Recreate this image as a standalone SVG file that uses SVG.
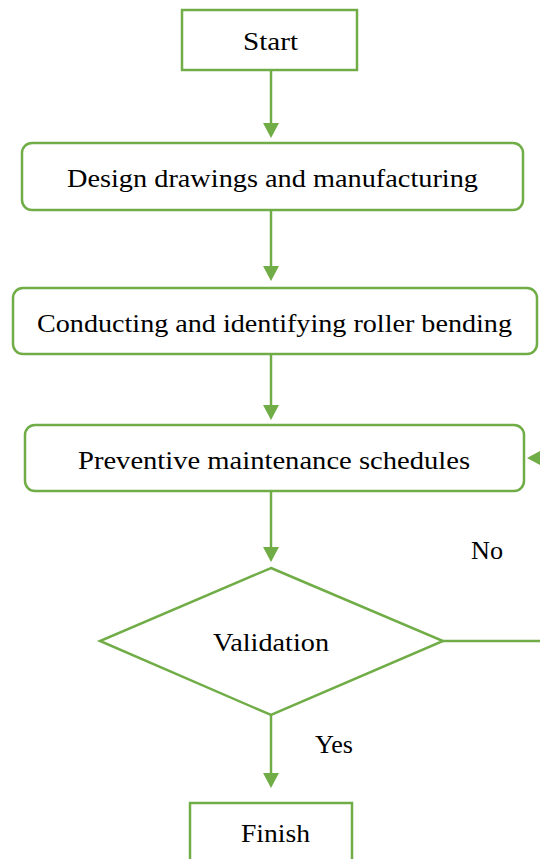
<svg xmlns="http://www.w3.org/2000/svg" width="540" height="859" viewBox="0 0 540 859">
<style>
.n{fill:#fff;stroke:#70AD47;stroke-width:2.5}
.c{stroke:#70AD47;stroke-width:2.5;fill:none}
.h{fill:#70AD47}
text{font-family:"Liberation Serif","DejaVu Serif",serif;font-size:25px;fill:#000}
</style>
<rect width="540" height="859" fill="#fff"/>
<g id="connectors">
<line class="c" x1="271" y1="70" x2="271" y2="124"/>
<polygon class="h" points="263,123 279,123 271,138"/>
<line class="c" x1="271" y1="210" x2="271" y2="267"/>
<polygon class="h" points="263,266 279,266 271,281"/>
<line class="c" x1="271" y1="354" x2="271" y2="406"/>
<polygon class="h" points="263,405 279,405 271,420"/>
<line class="c" x1="271" y1="491" x2="271" y2="548"/>
<polygon class="h" points="263,547 279,547 271,562"/>
<line class="c" x1="271" y1="715" x2="271" y2="774"/>
<polygon class="h" points="263,773 279,773 271,788"/>
<polyline class="c" points="443,641 560,641"/>
<polygon class="h" points="542,450 542,466 527,458"/>
<text x="471" y="559" textLength="32" lengthAdjust="spacingAndGlyphs">No</text>
<text x="315" y="753" textLength="38" lengthAdjust="spacingAndGlyphs">Yes</text>
</g>
<g id="start">
<rect class="n" x="182" y="10" width="175" height="60"/>
<text x="243" y="50" textLength="55" lengthAdjust="spacingAndGlyphs">Start</text>
</g>
<g id="design">
<rect class="n" x="22" y="143" width="501" height="67" rx="10"/>
<text x="67" y="187" textLength="411" lengthAdjust="spacingAndGlyphs">Design drawings and manufacturing</text>
</g>
<g id="conducting">
<rect class="n" x="13" y="288" width="524" height="66" rx="10"/>
<text x="37" y="332" textLength="475" lengthAdjust="spacingAndGlyphs">Conducting and identifying roller bending</text>
</g>
<g id="preventive">
<rect class="n" x="25" y="425" width="499" height="66" rx="10"/>
<text x="78" y="469" textLength="392" lengthAdjust="spacingAndGlyphs">Preventive maintenance schedules</text>
</g>
<g id="validation">
<polygon class="n" points="271,568 443,641 271,715 100,641"/>
<text x="213" y="651" textLength="116" lengthAdjust="spacingAndGlyphs">Validation</text>
</g>
<g id="finish">
<rect class="n" x="190" y="803" width="162" height="70"/>
<text x="241" y="842" textLength="69" lengthAdjust="spacingAndGlyphs">Finish</text>
</g>
</svg>
